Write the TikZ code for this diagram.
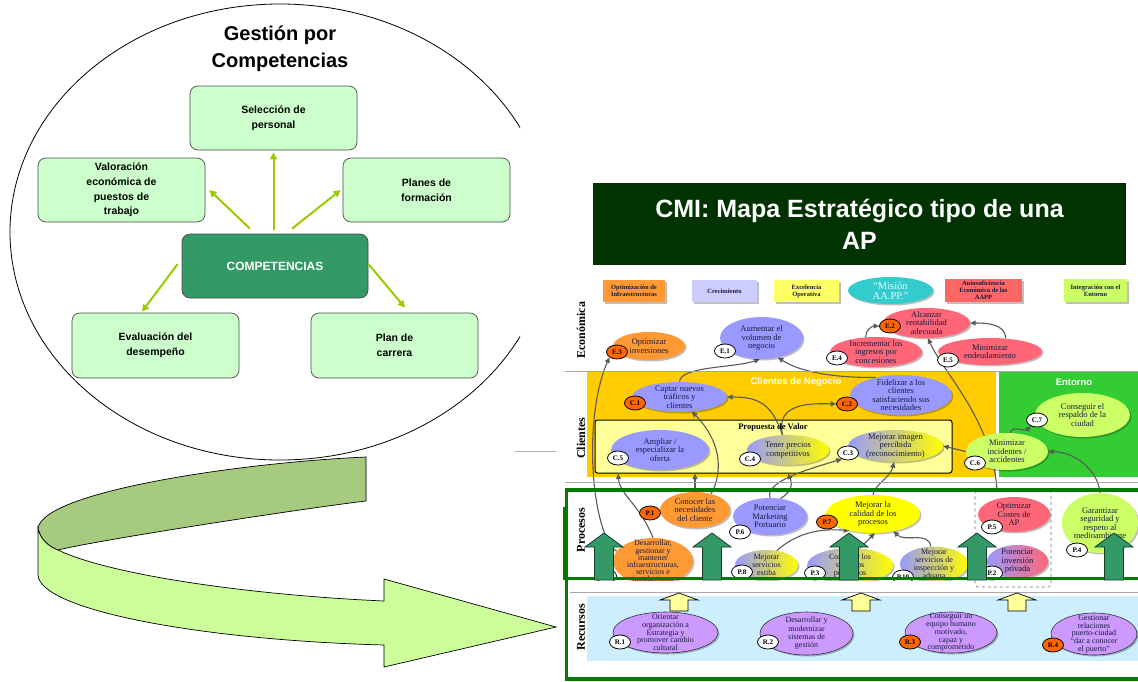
\documentclass[tikz,border=0pt]{standalone}
\usepackage{fontspec}
\setmainfont{Liberation Serif}
\newfontfamily\arialf{Liberation Sans}
\usetikzlibrary{shapes.geometric,arrows.meta,shadows}
\newcommand{\myfs}[2]{\fontsize{#1}{#2}\selectfont}
\definecolor{lav}{HTML}{9999FF}
\definecolor{orgE}{HTML}{FF9933}
\definecolor{pnk}{HTML}{FF6677}
\definecolor{yel}{HTML}{FFFF00}
\definecolor{lgr}{HTML}{CCFF66}
\definecolor{pur}{HTML}{CC99FF}
\definecolor{bdgo}{HTML}{FF6600}
\definecolor{txtc}{HTML}{1A1A40}
\definecolor{cliO}{HTML}{FFCC00}
\definecolor{entG}{HTML}{33CC33}
\definecolor{propy}{HTML}{FFFF99}
\definecolor{recB}{HTML}{CCEEFF}
\definecolor{frameG}{HTML}{007A00}
\definecolor{arrG}{HTML}{339966}
\definecolor{titG}{HTML}{003300}
\definecolor{boxG}{HTML}{CCFFCC}
\definecolor{compG}{HTML}{339966}
\definecolor{limeA}{HTML}{99CC00}
\definecolor{ribD}{HTML}{A6CB7E}
\definecolor{ribL}{HTML}{CCFF99}
\definecolor{conC}{HTML}{5A5A5A}
\definecolor{legO}{HTML}{FF9933}
\definecolor{legL}{HTML}{CCCCFF}
\definecolor{legY}{HTML}{FFFF66}
\definecolor{legP}{HTML}{FF6666}
\definecolor{misC}{HTML}{33CCCC}
\pgfdeclarelayer{bgl}
\pgfdeclarelayer{conn}
\pgfsetlayers{bgl,conn,main}
\begin{document}
\begin{tikzpicture}[x=1pt,y=-1pt,
  gbox/.style={rectangle, rounded corners=8pt, draw=black!70, line width=0.7pt, fill=boxG,
     font=\arialf\bfseries\myfs{10.5}{14.6}, align=center, minimum width=167pt, minimum height=64pt, inner sep=1pt},
  garrow/.style={draw=limeA, line width=2pt, -{Triangle[length=7pt,width=7pt]}},
  shd/.style={drop shadow={shadow xshift=1.5pt,shadow yshift=-1.5pt,fill=black,opacity=0.25}},
  ov/.style={ellipse, inner sep=0pt, shd},
  tx/.style={font=\myfs{8.5}{8.5}, align=center, inner sep=0pt, text=txtc},
  bdg/.style={ellipse, draw=black, line width=0.8pt, fill=white, inner sep=0pt,
     minimum width=21pt, minimum height=14pt, font=\bfseries\myfs{7}{7}},
  leg/.style={rectangle, inner sep=0pt, font=\bfseries\myfs{6.5}{7}, align=center, shd, text=txtc},
  cn/.style={draw=conC, line width=1.1pt, -{Triangle[length=5.5pt,width=5pt]}},
  rowl/.style={rotate=90, font=\bfseries\myfs{12}{12}},
  sepl/.style={draw=black!35, line width=0.9pt},
  frm/.style={draw=frameG, line width=3.3pt},
  pics/garr/.style={code={\draw[fill=arrG, draw=black!60!arrG, line width=0.8pt] (0,0) -- (19,14) -- (9.5,14) -- (9.5,47) -- (-9.5,47) -- (-9.5,14) -- (-19,14) -- cycle;}},
  pics/yarr/.style={code={\draw[fill=propy, draw=black, line width=0.7pt] (0,0) -- (19,7) -- (9,7) -- (9,18) -- (-9,18) -- (-9,7) -- (-19,7) -- cycle;}}
]
\useasboundingbox (0,0) rectangle (1138,681);

% ---------------- left: Gestion por competencias
\begin{scope}
\clip (0,0) rectangle (520,681);
\draw[line width=0.8pt] (280,232) ellipse [x radius=270, y radius=228];
\end{scope}
\node[font=\arialf\bfseries\myfs{20}{27}, align=center] (gtitle) at (280,48.5) {Gestión por\\Competencias};
\node[gbox] (sel) at (273.5,118) {Selección de\\personal};
\node[gbox] (val) at (121.5,190) {Valoración\\económica de\\puestos de\\trabajo};
\node[gbox] (pla) at (426.5,190) {Planes de\\formación};
\node[gbox, fill=compG, text=white, minimum width=186pt, font=\arialf\bfseries\myfs{12}{14}] (comp) at (275,266) {COMPETENCIAS};
\node[gbox, minimum height=65pt] (eva) at (155.5,345.5) {Evaluación del\\desempeño};
\node[gbox, minimum height=65pt] (car) at (394.5,345.5) {Plan de\\carrera};
\draw[garrow] ([yshift=4pt]comp.north -| sel.south) -- ([yshift=-2pt]sel.south);
\draw[garrow] ([xshift=-25pt,yshift=5pt]comp.north) -- ([xshift=4pt]val.east);
\draw[garrow] ([xshift=17pt,yshift=5pt]comp.north) -- ([xshift=-2pt]pla.west);
\draw[garrow] ([xshift=-4pt,yshift=2pt]comp.west) -- ([xshift=-13.5pt,yshift=1pt]eva.north);
\draw[garrow] ([yshift=2pt]comp.east) -- ([xshift=10.5pt,yshift=5pt]car.north);

% ---------------- ribbon arrow
\draw[fill=ribD, line width=0.7pt] (366,457) .. controls (250,462) and (45,490) .. (38,528)
   .. controls (40,540) and (50,547) .. (58,550)
   .. controls (98,540) and (306,508) .. (366,501) -- cycle;
\draw[fill=ribL, line width=0.7pt] (38,528) -- (38,575) .. controls (40,610) and (200,640) .. (384,645)
   -- (384,667) -- (556,627) -- (384,579) -- (384,601)
   .. controls (250,595) and (110,575) .. (58,550)
   .. controls (50,547) and (40,540) .. (38,528) -- cycle;
\draw[draw=black!30, line width=0.9pt] (515,451) -- (556,451);

% ---------------- map title
\node[fill=titG, minimum width=533pt, minimum height=82pt, inner sep=0pt, text=white,
   font=\arialf\bfseries\myfs{25}{32}, align=center] (cmi) at (859.5,224) {CMI: Mapa Estratégico tipo de una\\AP};

% ---------------- backgrounds
\begin{pgfonlayer}{bgl}
\fill[white] (0,0) rectangle (1138,681);
\fill[cliO] (587,372) rectangle (996,477);
\fill[entG] (999,372) rectangle (1138,477);
\fill[recB] (587,596) rectangle (1138,661);
\node[draw=black, line width=1pt, fill=propy, rounded corners=2.5pt, minimum width=357pt, minimum height=53pt, inner sep=0pt] (PV) at (773.5,446.5) {};
\end{pgfonlayer}
\draw[sepl] (565,371) -- (1138,371);
\draw[sepl] (565,482) -- (1138,482);

% legend
\node[leg, fill=legO, minimum width=62pt, minimum height=22pt] (L1) at (634,291) {Optimización de\\Infraestructuras};
\node[leg, fill=legL, minimum width=65pt, minimum height=22pt] (L2) at (724.5,291) {Crecimiento};
\node[leg, fill=legY, minimum width=65pt, minimum height=22pt] (L3) at (806.5,291) {Excelencia\\Operativa};
\node[ov, fill=misC, minimum width=85pt, minimum height=27pt,
   label={[tx, text=cyan!8, font=\myfs{10.5}{10}]center:{“Misión\\AA.PP.”}}] (MIS) at (890.5,290.5) {};
\node[leg, fill=legP, minimum width=77pt, minimum height=23pt] (L5) at (983.5,290.5) {Autosuficiencia\\Económica de las\\AAPP};
\node[leg, fill=lgr, minimum width=63pt, minimum height=23pt] (L6) at (1095.5,290.5) {Integración con el\\Entorno};

% row labels
\node[rowl] (rEco) at (581,330) {Económica};
\node[rowl] (rCli) at (581,438) {Clientes};
\node[rowl] (rPro) at (581,530) {Procesos};
\node[rowl] (rRec) at (581,627) {Recursos};

% section titles
\node[font=\arialf\bfseries\myfs{9.5}{9.5}, text=white] (tCN) at (796,382) {Clientes de Negocio};
\node[font=\arialf\bfseries\myfs{9.5}{9.5}, text=white] (tEN) at (1074,382) {Entorno};
\node[font=\bfseries\myfs{8.5}{8.5}] (PVt) at (773,427) {Propuesta de Valor};

% ---------------- economic
\node[ov, fill=orgE, minimum width=72pt, minimum height=28pt, label={[tx]center:{Optimizar\\inversiones}}] (E3) at (649,346) {};
\node[ov, fill=lav, minimum width=83pt, minimum height=42pt, label={[tx]center:{Aumentar el\\volumen de\\negocio}}] (E1) at (761.5,338) {};
\node[ov, fill=pnk, minimum width=92pt, minimum height=30pt, label={[tx]center:{Incrementar los\\ingresos por\\concesiones}}] (E4) at (876,352) {};
\node[ov, fill=pnk, minimum width=87pt, minimum height=30pt, label={[tx]center:{Alcanzar\\rentabilidad\\adecuada}}] (E2) at (926.5,323) {};
\node[ov, fill=pnk, minimum width=104pt, minimum height=27pt, label={[tx]center:{Minimizar\\endeudamiento}}] (E5) at (990,351.5) {};
\node[bdg, fill=bdgo] (E3b) at (617,352) {E.3};
\node[bdg] (E1b) at (725,351) {E.1};
\node[bdg] (E4b) at (837,358) {E.4};
\node[bdg, fill=bdgo] (E2b) at (890,326) {E.2};
\node[bdg] (E5b) at (948,360) {E.5};

% ---------------- clients
\node[ov, fill=lav, minimum width=95pt, minimum height=30pt, label={[tx]center:{Captar nuevos\\tráficos y\\clientes}}] (C1) at (679.5,397) {};
\node[ov, fill=lav, minimum width=102pt, minimum height=40pt, label={[tx]center:{Fidelizar a los\\clientes\\satisfaciendo sus\\necesidades}}] (C2) at (901,395) {};
\node[ov, fill=lav, minimum width=98pt, minimum height=40pt, label={[tx]center:{Ampliar /\\especializar la\\oferta}}] (C5) at (660,450) {};
\node[ov, left color=lav, right color=yel, minimum width=82pt, minimum height=30pt, label={[tx]center:{Tener precios\\competitivos}}] (C4) at (788,450) {};
\node[ov, left color=lav, right color=yel, minimum width=95pt, minimum height=32pt, label={[tx]center:{Mejorar imagen\\percibida\\(reconocimiento)}}] (C3) at (895.5,446) {};
\node[ov, fill=lgr, minimum width=82pt, minimum height=37pt, label={[tx]center:{Minimizar\\incidentes /\\accidentes}}] (C6) at (1007,451.5) {};
\node[ov, fill=lgr, minimum width=95pt, minimum height=44pt, label={[tx]center:{Conseguir el\\respaldo de la\\ciudad}}] (C7) at (1082.5,415) {};
\node[bdg, fill=bdgo] (C1b) at (635,403) {C.1};
\node[bdg, fill=bdgo] (C2b) at (847,404) {C.2};
\node[bdg] (C5b) at (618,458) {C.5};
\node[bdg] (C4b) at (750,459) {C.4};
\node[bdg] (C3b) at (848,453) {C.3};
\node[bdg] (C6b) at (975,463) {C.6};
\node[bdg] (C7b) at (1037,420) {C.7};

% ---------------- processes
\node[ov, fill=orgE, minimum width=70pt, minimum height=36pt, label={[tx]center:{Conocer las\\necesidades\\del cliente}}] (P1) at (695,510) {};
\node[ov, fill=lav, minimum width=74pt, minimum height=37pt, label={[tx]center:{Potenciar\\Marketing\\Portuario}}] (P6) at (770,516.5) {};
\node[ov, fill=orgE, minimum width=80pt, minimum height=46pt, label={[tx, font=\myfs{8}{7.1}]center:{Desarrollar,\\gestionar y\\mantener\\infraestructuras,\\servicios e\\instalaciones}}] (P9) at (653,561) {};
\node[ov, fill=yel, minimum width=94pt, minimum height=38pt, label={[tx]center:{Mejorar la\\calidad de los\\procesos}}] (P7) at (873,514) {};
\node[ov, left color=lav, right color=yel, minimum width=63pt, minimum height=30pt, label={[tx, font=\myfs{8}{8}]center:{Mejorar\\servicios\\estiba}}] (P8) at (766.5,565) {};
\node[ov, left color=lav, right color=yel, minimum width=86pt, minimum height=35pt, label={[tx, font=\myfs{8}{8}]center:{Controlar los\\servicios\\portuarios}}] (P3) at (850,565.5) {};
\node[ov, left color=lav, right color=yel, minimum width=68pt, minimum height=35pt, label={[tx, font=\myfs{8}{8.2}]center:{Mejorar\\servicios de\\inspección y\\aduana}}] (P10) at (934,564) {};
\node[ov, fill=pnk, minimum width=72pt, minimum height=35pt, label={[tx]center:{Optimizar\\Costes de\\AP}}] (P5) at (1014,514.5) {};
\node[ov, left color=lav, right color=pnk, minimum width=61pt, minimum height=33pt, label={[tx]center:{Potenciar\\inversión\\privada}}] (P2) at (1017.5,561.5) {};
\node[ov, fill=lgr, minimum width=76pt, minimum height=60pt, label={[tx]center:{Garantizar\\seguridad y\\respeto al\\medioambiente}}] (P4) at (1100,523) {};
\node[bdg, fill=bdgo] (P1b) at (650,513) {P.1};
\node[bdg] (P6b) at (740,532) {P.6};
\node[bdg] (P9b) at (606,576) {P.9};
\node[bdg, fill=bdgo] (P7b) at (827,522) {P.7};
\node[bdg] (P8b) at (742,572) {P.8};
\node[bdg] (P3b) at (815,573) {P.3};
\node[bdg] (P10b) at (903,577) {P.10};
\node[bdg] (P5b) at (992,527) {P.5};
\node[bdg] (P2b) at (992,573) {P.2};
\node[bdg] (P4b) at (1077,550) {P.4};

% cover band + frames
\fill[white] (569,581) rectangle (1138,595);
\draw[sepl] (570,592) -- (1138,592);
\node[draw=black!55, dashed, line width=0.6pt, rounded corners=3pt, minimum width=76pt, minimum height=97pt, inner sep=0pt] (PBox) at (1013,538.5) {};
\draw[frm] (566.5,490) -- (1140,490);
\draw[frm] (566.5,578.5) -- (1140,578.5);
\draw[frm] (566.5,679) -- (1140,679);
\draw[frm] (566.5,488.4) -- (566.5,680.6);
\draw[draw=frameG, line width=2pt] (564,507) -- (564,580);

% green up arrows
\pic at (604,533) {garr};
\pic at (712,533) {garr};
\pic at (849,533) {garr};
\pic at (977,533) {garr};
\pic at (1114,533) {garr};
% yellow up arrows
\pic at (679,593) {yarr};
\pic at (861,593) {yarr};
\pic at (1017,593) {yarr};

% ---------------- resources
\node[ov, fill=pur, draw=black!80, line width=0.6pt, minimum width=105pt, minimum height=41pt, label={[tx, font=\myfs{8}{7.8}]center:{Orientar\\organización a\\Estrategia y\\promover cambio\\cultural}}] (R1) at (665.5,632.5) {};
\node[ov, fill=pur, draw=black!80, line width=0.6pt, minimum width=93pt, minimum height=43pt, label={[tx, font=\myfs{8}{8.3}]center:{Desarrollar y\\modernizar\\sistemas de\\gestión}}] (R2) at (806.5,633.5) {};
\node[ov, fill=pur, draw=black!80, line width=0.6pt, minimum width=92pt, minimum height=41pt, label={[tx, font=\myfs{8}{7.8}]center:{Conseguir un\\equipo humano\\motivado,\\capaz y\\comprometido}}] (R3) at (951,632.5) {};
\node[ov, fill=pur, draw=black!80, line width=0.6pt, minimum width=86pt, minimum height=42pt, label={[tx, font=\myfs{8}{7.8}]center:{Gestionar\\relaciones\\puerto-ciudad\\“dar a conocer\\el puerto”}}] (R4) at (1094,634) {};
\node[bdg] (R1b) at (620,642) {R.1};
\node[bdg] (R2b) at (768,642) {R.2};
\node[bdg, fill=bdgo] (R3b) at (910,642) {R.3};
\node[bdg, fill=bdgo] (R4b) at (1053,645) {R.4};

% ---------------- connectors
\begin{pgfonlayer}{conn}
\draw[cn] (P9.165) .. controls (592,535) and (582,420) .. (E3b.215);
\draw[cn] (C1.north) .. controls (680,366) and (735,368) .. (E1.265);
\draw[cn] (C2.145) .. controls (835,378) and (800,372) .. (E1.310);
\draw[cn] ([xshift=-16pt]PBox.north) .. controls (992,420) and (945,375) .. (E2.275);
\draw[cn] (E4.125) to[out=95,in=180] (E2b.west);
\draw[cn] (E5.40) to[out=90,in=0] (E2.east);
\draw[cn] (C6.west) -- (C3.east);
\draw[cn] (C6.80) to[out=80,in=225] (C7b.225);
\draw[cn] (C4.110) .. controls (772,405) and (760,397) .. (C1.east);
\draw[cn] (C4.110) .. controls (776,405) and (805,403) .. (C2b.west);
\draw[cn] (P1.45) .. controls (724,470) and (720,440) .. (C1.310);
\draw[cn] (P1.north) -- (PV.south -| P1.north);
\draw[cn] (P9.north) .. controls (640,505) and (620,495) .. (PV.south -| C5b);
\draw[cn] (P6.north) .. controls (765,482) and (805,470) .. (C3b.225);
\draw[cn] (P6.60) .. controls (795,490) and (791,480) .. (PV.south -| C4);
\draw[cn] (P7.north) .. controls (874,485) and (890,478) .. (C3.265);
\draw[cn] (P4.north) .. controls (1098,470) and (1075,452) .. (C6.east);
\draw[cn] (P8.55) .. controls (795,535) and (815,528) .. (P7.215);
\draw[cn] (P3.60) -- (P7.275);
\draw[cn] (P10.100) to[out=100,in=-45] (P7.320);
\end{pgfonlayer}
\end{tikzpicture}
\end{document}
